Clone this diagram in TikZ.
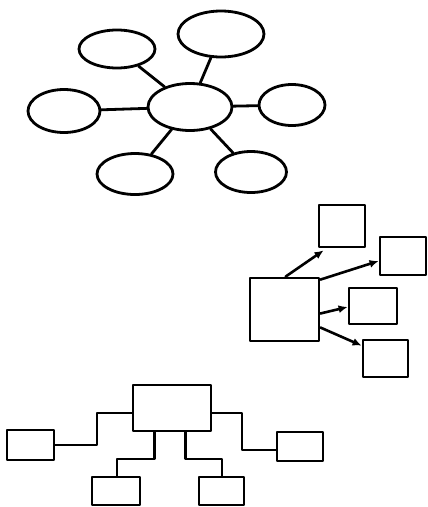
\documentclass[tikz,border=0pt]{standalone}
\usetikzlibrary{shapes.geometric,arrows.meta}
\begin{document}
\begin{tikzpicture}[x=1pt,y=-1pt,
  line width=2.8pt, line join=round, line cap=round,
  ell/.style={draw, ellipse, inner sep=0pt, line width=2.8pt},
  box/.style={draw, rectangle, inner sep=0pt, line width=2.8pt},
  conn/.style={line width=2.8pt},
  arr/.style={line width=2.6pt, -{Latex[length=9pt,width=8pt]}}]
\useasboundingbox (0,0) rectangle (428,507);
% cluster of ellipses
\node[ell, minimum width=84pt, minimum height=47pt] (c) at (190,107) {};
\node[ell, minimum width=76pt, minimum height=38pt] (tl) at (117,49) {};
\node[ell, minimum width=86pt, minimum height=46pt] (tr) at (221,34) {};
\node[ell, minimum width=72pt, minimum height=43pt] (l) at (64,111) {};
\node[ell, minimum width=66pt, minimum height=41pt] (r) at (292,105) {};
\node[ell, minimum width=76pt, minimum height=41pt] (bl) at (135,174) {};
\node[ell, minimum width=71pt, minimum height=41pt] (br) at (251,172) {};
\draw[conn] (c) -- (tl);
\draw[conn] (c) -- (tr);
\draw[conn] (c) -- (l);
\draw[conn] (c) -- (r);
\draw[conn] (c) -- (bl);
\draw[conn] (c) -- (br);
% arrow group
\node[box, minimum width=69pt, minimum height=63pt] (big) at (284.5,309.5) {};
\node[box, minimum width=46pt, minimum height=42pt] (b1) at (342,226) {};
\node[box, minimum width=46pt, minimum height=38pt] (b2) at (403,256) {};
\node[box, minimum width=48pt, minimum height=36pt] (b3) at (373,306) {};
\node[box, minimum width=45pt, minimum height=37pt] (b4) at (385.5,358.5) {};
\draw[arr] ([xshift=37pt]big.north west) -- ([xshift=6pt,yshift=-2pt]b1.south west);
\draw[arr] ([yshift=-3pt]big.north east) -- ([yshift=-5pt]b2.west);
\draw[arr] ([yshift=-4pt]big.east) -- ([yshift=-1pt]b3.west);
\draw[arr] ([yshift=-18pt]big.east) -- ([yshift=-7pt]b4.north west);
% tree group
\node[box, minimum width=78pt, minimum height=46pt] (t) at (172,408) {};
\node[box, minimum width=47pt, minimum height=30pt] (tl2) at (30.5,445) {};
\node[box, minimum width=46pt, minimum height=29pt] (tr2) at (300,446.5) {};
\node[box, minimum width=48pt, minimum height=28pt] (tbl) at (116,491) {};
\node[box, minimum width=45pt, minimum height=28pt] (tbr) at (221.5,491) {};
\draw[conn] ([yshift=-5pt]t.west) -| (97,445) -- (tl2.east);
\draw[conn] ([yshift=-5pt]t.east) -| (242,450) -- ([yshift=-3.5pt]tr2.west);
\draw[conn] ([xshift=23pt]t.south west) |- (117,459) -- (tbl.north -| 117,0);
\draw[conn] ([xshift=54pt]t.south west) |- (222,459) -- (tbr.north -| 222,0);
\end{tikzpicture}
\end{document}
